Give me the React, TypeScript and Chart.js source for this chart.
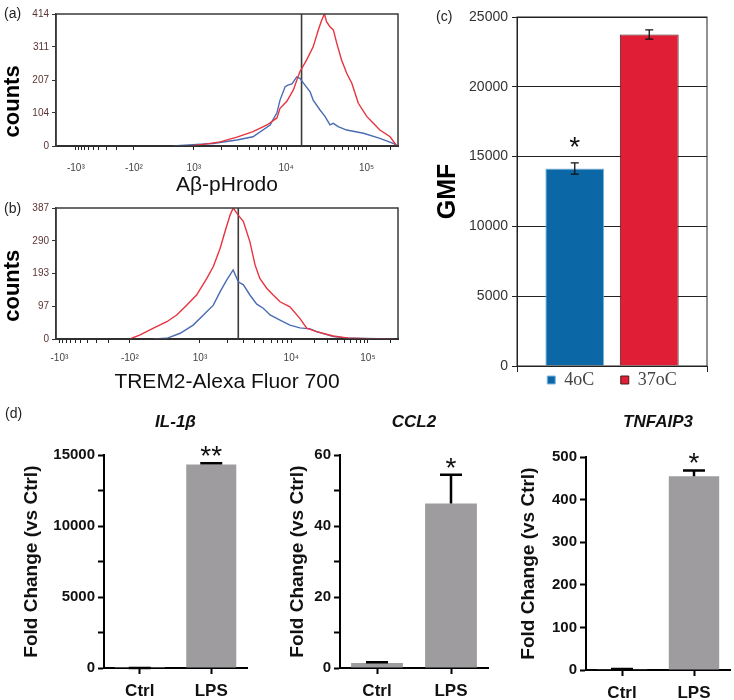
import React, { useEffect, useRef } from 'react';
import { Chart, registerables } from 'chart.js';

Chart.register(...registerables);

const SANS = "'Liberation Sans', Arial, Helvetica, sans-serif";
const SERIF = "'Liberation Serif', 'Times New Roman', serif";

// ---------- Panel (a): Aβ-pHrodo histogram (x = display channel 0–1000) ----------
const A_RED_X = [392, 430, 480, 529, 576, 617, 646, 655, 675, 694, 713, 733, 752, 767, 777, 785, 791, 801, 811, 821, 835, 850, 865, 884, 909, 928, 947, 977, 991, 996];
const A_RED_Y = [0, 5, 13, 28, 45, 66, 88, 118, 140, 176, 233, 270, 311, 364, 395, 414, 390, 374, 364, 322, 270, 228, 197, 134, 92, 71, 50, 29, 8, 0];
const A_BLUE_X = [342, 400, 459, 529, 576, 626, 646, 655, 670, 678, 690, 704, 713, 728, 743, 752, 772, 787, 801, 811, 825, 850, 899, 947, 986, 1000];
const A_BLUE_Y = [0, 4, 8, 19, 29, 66, 104, 144, 186, 191, 195, 217, 212, 191, 170, 144, 113, 92, 66, 71, 61, 50, 40, 24, 8, 0];
const A_GATE = 718;
const A_Y_MAX = 414;
const A_Y_TICKS = [0, 104, 207, 311, 414];
const A_X_TICK_POS = [58, 228, 403, 673, 908];
const A_X_TICK_LABELS = ['-10³', '-10²', '10³', '10⁴', '10⁵'];

// ---------- Panel (b): TREM2-Alexa Fluor 700 histogram ----------
const B_RED_X = [216, 246, 285, 324, 353, 382, 411, 441, 460, 480, 494, 509, 518, 533, 548, 567, 582, 596, 616, 635, 655, 684, 713, 733, 762, 811, 860, 909, 986];
const B_RED_Y = [0, 12, 32, 51, 71, 100, 130, 179, 214, 268, 317, 366, 387, 366, 347, 287, 219, 179, 150, 130, 110, 95, 61, 32, 22, 9, 2, 1, 0];
const B_BLUE_X = [285, 324, 363, 401, 431, 460, 480, 499, 518, 533, 548, 567, 587, 606, 626, 655, 684, 713, 743, 762, 811, 860, 986];
const B_BLUE_Y = [0, 2, 17, 41, 71, 100, 140, 174, 204, 169, 160, 130, 103, 91, 71, 56, 41, 33, 30, 22, 7, 2, 0];
const B_GATE = 533;
const B_Y_MAX = 387;
const B_Y_TICKS = [0, 97, 193, 290, 387];
const B_X_TICK_POS = [10, 216, 421, 688, 912];
const B_X_TICK_LABELS = ['-10³', '-10²', '10³', '10⁴', '10⁵'];

// ---------- Panel (c): GMF ----------
const C_LABELS = ['4oC', '37oC'];
const C_VALUES = [14150, 23750];
const C_ERRORS = [400, 330];
const C_STARS = ['*', ''];
const C_COLORS = ['#0b67a5', '#e01e35'];
const C_BORDERS = ['#7db8e0', '#4a1a1a'];
const C_Y_MAX = 25000;

// ---------- Panel (d): qPCR fold change ----------
const D_CATEGORIES = ['Ctrl', 'LPS'];
const IL1B_VALUES = [1, 14350];
const IL1B_ERRORS = [0, 80];
const IL1B_STARS = ['', '**'];
const IL1B_Y_TICKS = [0, 2500, 5000, 7500, 10000, 12500, 15000];
const IL1B_Y_LABELS = [0, 5000, 10000, 15000];

const CCL2_VALUES = [1.4, 46.4];
const CCL2_ERRORS = [0.2, 8.1];
const CCL2_STARS = ['', '*'];
const CCL2_Y_TICKS = [0, 10, 20, 30, 40, 50, 60];
const CCL2_Y_LABELS = [0, 20, 40, 60];

const TNF_VALUES = [2, 455];
const TNF_ERRORS = [0.5, 14];
const TNF_STARS = ['', '*'];
const TNF_Y_TICKS = [0, 100, 200, 300, 400, 500];
const TNF_Y_LABELS = [0, 100, 200, 300, 400, 500];

const HIST_RED = '#e8333f';
const HIST_BLUE = '#4a6cb3';

// ---------- plugins ----------
const framePlugin = {
  id: 'frame',
  afterDatasetsDraw(chart: any, _a: any, opts: any) {
    if (!opts || !opts.color) return;
    const { ctx } = chart;
    const { left, top, right, bottom } = chart.chartArea;
    ctx.save();
    ctx.strokeStyle = opts.color;
    ctx.lineWidth = opts.width || 1;
    ctx.strokeRect(left, top, right - left, bottom - top);
    ctx.restore();
  },
};

const errorBarsPlugin = {
  id: 'errorBars',
  afterDatasetsDraw(chart: any, _a: any, opts: any) {
    if (!opts || !opts.errors) return;
    const { ctx } = chart;
    const y = chart.scales.y;
    ctx.save();
    ctx.strokeStyle = opts.color || '#000';
    ctx.lineWidth = opts.lineWidth || 1;
    chart.data.datasets.forEach((ds: any, di: number) => {
      chart.getDatasetMeta(di).data.forEach((bar: any, i: number) => {
        const e = opts.errors[di] ? opts.errors[di][i] : null;
        if (e == null) return;
        const v = ds.data[i];
        const yt = y.getPixelForValue(v + e);
        const yb = y.getPixelForValue(opts.both ? v - e : v);
        const h = opts.capWidth / 2;
        ctx.beginPath();
        ctx.moveTo(bar.x, yt);
        ctx.lineTo(bar.x, yb);
        ctx.moveTo(bar.x - h, yt);
        ctx.lineTo(bar.x + h, yt);
        if (opts.both) {
          ctx.moveTo(bar.x - h, yb);
          ctx.lineTo(bar.x + h, yb);
        }
        ctx.stroke();
      });
    });
    ctx.restore();
  },
};

const starsPlugin = {
  id: 'stars',
  afterDatasetsDraw(chart: any, _a: any, opts: any) {
    if (!opts || !opts.marks) return;
    const { ctx } = chart;
    const y = chart.scales.y;
    ctx.save();
    ctx.fillStyle = opts.color || '#000';
    ctx.font = `${opts.weight || 'normal'} ${opts.size}px ${SANS}`;
    ctx.textAlign = 'center';
    ctx.textBaseline = 'alphabetic';
    chart.data.datasets.forEach((ds: any, di: number) => {
      chart.getDatasetMeta(di).data.forEach((bar: any, i: number) => {
        const s = opts.marks[di] ? opts.marks[di][i] : '';
        if (!s) return;
        const e = opts.errors && opts.errors[di] ? opts.errors[di][i] || 0 : 0;
        const cy = y.getPixelForValue(ds.data[i] + e) - opts.offset;
        ctx.fillText(s, bar.x, cy + 0.575 * opts.size);
      });
    });
    ctx.restore();
  },
};

// ---------- helpers ----------
const LOG_K = [2, 3, 4, 5, 6, 7, 8, 9];
function minorTicks(majors: number[]) {
  const [n3, n2, p3, p4, p5] = majors;
  const out: number[] = [];
  LOG_K.forEach((k) => {
    const l = Math.log10(k);
    out.push(n2 - l * (n2 - n3));
    out.push(p3 + l * (p4 - p3));
    out.push(p4 + l * (p5 - p4));
    const beyond = p5 + l * (p5 - p4);
    if (beyond < 1000) out.push(beyond);
  });
  return out;
}

function histConfig(p: any) {
  const minors = minorTicks(p.xTickPos);
  const allTicks = [...p.xTickPos, ...minors].sort((a, b) => a - b);
  return {
    type: 'line',
    data: {
      datasets: [
        { data: p.redX.map((x: number, i: number) => ({ x, y: p.redY[i] })), borderColor: HIST_RED, borderWidth: 1.4, pointRadius: 0, tension: 0, fill: false },
        { data: p.blueX.map((x: number, i: number) => ({ x, y: p.blueY[i] })), borderColor: HIST_BLUE, borderWidth: 1.4, pointRadius: 0, tension: 0, fill: false },
        { data: [{ x: p.gate, y: 0 }, { x: p.gate, y: p.yMax }], borderColor: '#3a3a3a', borderWidth: 1.6, pointRadius: 0, fill: false },
      ],
    },
    options: {
      animation: false,
      responsive: false,
      layout: { padding: { top: p.padTop, right: 22, left: 0, bottom: 0 } },
      plugins: {
        legend: { display: false },
        tooltip: { enabled: false },
        frame: { color: '#3a3a3a', width: 1.5 },
      },
      scales: {
        x: {
          type: 'linear',
          min: 0,
          max: 1000,
          afterBuildTicks: (s: any) => { s.ticks = allTicks.map((v) => ({ value: v })); },
          afterFit: (s: any) => { s.height = p.xHeight; },
          ticks: {
            autoSkip: false,
            maxRotation: 0,
            padding: p.xTickPad,
            font: { family: SANS, size: 10 },
            color: '#444',
            callback: (v: number) => {
              const i = p.xTickPos.indexOf(v);
              return i >= 0 ? p.xTickLabels[i] : '';
            },
          },
          grid: { drawOnChartArea: false, tickLength: 4, color: '#222', tickWidth: 1 },
          border: { color: '#111', width: 2 },
          title: { display: true, text: p.xTitle, font: { family: SANS, size: 21, lineHeight: 1.2 }, color: '#111', padding: { top: 0, bottom: p.xTitlePad } },
        },
        y: {
          min: 0,
          max: p.yMax,
          afterBuildTicks: (s: any) => { s.ticks = p.yTicks.map((v: number) => ({ value: v })); },
          afterFit: (s: any) => { s.width = 56; },
          ticks: { autoSkip: false, padding: 3, font: { family: SANS, size: 10 }, color: '#5c3333' },
          grid: { drawOnChartArea: false, tickLength: 4, color: '#333' },
          border: { color: '#333', width: 1.5 },
          title: { display: true, text: p.yTitle, font: { family: SANS, size: 22, weight: 'bold', lineHeight: 1 }, color: '#000', padding: { top: 2, bottom: 0 } },
        },
      },
    },
    plugins: [framePlugin],
  };
}

function gmfConfig() {
  return {
    type: 'bar',
    data: {
      labels: [''],
      datasets: C_LABELS.map((l, i) => ({
        label: l,
        data: [C_VALUES[i]],
        backgroundColor: C_COLORS[i],
        borderColor: C_BORDERS[i],
        borderWidth: 1,
        barPercentage: 0.79,
        categoryPercentage: 0.784,
      })),
    },
    options: {
      animation: false,
      responsive: false,
      layout: { padding: { top: 17, right: 27, left: 0, bottom: 0 } },
      plugins: {
        legend: {
          display: true,
          position: 'bottom',
          fullSize: false,
          labels: {
            boxWidth: 8,
            boxHeight: 8,
            padding: 4,
            font: { family: SERIF, size: 18 },
            color: '#444',
            generateLabels: (chart: any) => {
              const items = Chart.defaults.plugins.legend.labels.generateLabels(chart);
              if (items.length) items[0].text = items[0].text + '     ';
              return items;
            },
          },
        },
        tooltip: { enabled: false },
        frame: { color: '#222', width: 1 },
        errorBars: { errors: C_ERRORS.map((e) => [e]), both: true, capWidth: 8, lineWidth: 1.3, color: '#111' },
        stars: { marks: C_STARS.map((s) => [s]), errors: C_ERRORS.map((e) => [e]), size: 28, offset: 23, color: '#111' },
      },
      scales: {
        x: {
          grid: { drawOnChartArea: false, tickLength: 6, color: '#222' },
          ticks: { display: false },
          border: { color: '#222', width: 1 },
          afterFit: (s: any) => { s.height = 1; },
        },
        y: {
          min: 0,
          max: C_Y_MAX,
          ticks: { stepSize: 5000, padding: 4, font: { family: SANS, size: 14 }, color: '#333', callback: (v: number) => String(v) },
          grid: { color: '#222', lineWidth: 1, tickLength: 5 },
          border: { color: '#222', width: 1 },
          afterFit: (s: any) => { s.width = 97; },
          title: { display: true, text: 'GMF', font: { family: SANS, size: 25, weight: 'bold', lineHeight: 1 }, color: '#000', padding: { top: 15.5, bottom: 0 } },
        },
      },
    },
    plugins: [framePlugin, errorBarsPlugin, starsPlugin],
  };
}

function foldConfig(p: any) {
  return {
    type: 'bar',
    data: {
      labels: D_CATEGORIES,
      datasets: [{ data: p.values, backgroundColor: '#9e9c9f', borderWidth: 0, barPercentage: 0.7, categoryPercentage: 1 }],
    },
    options: {
      animation: false,
      responsive: false,
      layout: { padding: { top: 0, right: p.padRight, left: 0, bottom: 0 } },
      plugins: {
        legend: { display: false },
        tooltip: { enabled: false },
        title: {
          display: true,
          text: p.title,
          fullSize: false,
          font: { family: SANS, size: 17, weight: 'bold', style: 'italic', lineHeight: 1.2 },
          color: '#111',
          padding: { top: 16.8, bottom: p.titlePadBottom },
        },
        errorBars: { errors: [p.errors], both: false, capWidth: 22, lineWidth: 2.5, color: '#000' },
        stars: { marks: [p.stars], errors: [p.errors], size: 28, offset: 14, color: '#111' },
      },
      scales: {
        x: {
          grid: { drawOnChartArea: false, offset: false, tickLength: 6, tickWidth: 2, color: '#000' },
          border: { color: '#000', width: 2 },
          ticks: { padding: 7, font: { family: SANS, size: 17, weight: 'bold' }, color: '#111' },
          afterFit: (s: any) => { s.height = p.xHeight; },
        },
        y: {
          min: 0,
          max: p.yMax,
          afterBuildTicks: (s: any) => { s.ticks = p.yTicks.map((v: number) => ({ value: v })); },
          afterFit: (s: any) => { s.width = p.yWidth; },
          ticks: {
            autoSkip: false,
            padding: 3,
            font: { family: SANS, size: 15, weight: 'bold' },
            color: '#111',
            callback: (v: number) => (p.yLabels.includes(v) ? String(v) : ''),
          },
          grid: { drawOnChartArea: false, tickLength: 6, tickWidth: 2, color: '#000' },
          border: { color: '#000', width: 2 },
          title: {
            display: true,
            text: 'Fold Change (vs Ctrl)',
            font: { family: SANS, size: 19, weight: 'bold', lineHeight: 1.2 },
            color: '#111',
            padding: { top: p.yTitlePad, bottom: 0 },
          },
        },
      },
    },
    plugins: [errorBarsPlugin, starsPlugin],
  };
}

function ChartCanvas({ left, top, width, height, makeConfig }: any) {
  const ref = useRef<HTMLCanvasElement | null>(null);
  useEffect(() => {
    if (!ref.current) return;
    const chart = new Chart(ref.current, makeConfig());
    return () => chart.destroy();
  }, []);
  return (
    <canvas
      ref={ref}
      width={width}
      height={height}
      style={{ position: 'absolute', left, top, width, height }}
    />
  );
}

const labelStyle = (left: number, top: number): React.CSSProperties => ({
  position: 'absolute',
  left,
  top,
  fontSize: 14,
  lineHeight: '16px',
  color: '#222',
  fontFamily: SANS,
});

export default function App() {
  return (
    <div style={{ position: 'absolute', left: 0, top: 0, width: 734, height: 700, background: '#fff', overflow: 'hidden' }}>
      <ChartCanvas
        left={0}
        top={0}
        width={420}
        height={200}
        makeConfig={() =>
          histConfig({
            redX: A_RED_X, redY: A_RED_Y, blueX: A_BLUE_X, blueY: A_BLUE_Y,
            gate: A_GATE, yMax: A_Y_MAX, yTicks: A_Y_TICKS,
            xTickPos: A_X_TICK_POS, xTickLabels: A_X_TICK_LABELS,
            xTitle: 'Aβ-pHrodo', yTitle: 'counts       ',
            padTop: 14, xHeight: 54, xTickPad: 12, xTitlePad: 2,
          })
        }
      />
      <ChartCanvas
        left={0}
        top={195}
        width={420}
        height={200}
        makeConfig={() =>
          histConfig({
            redX: B_RED_X, redY: B_RED_Y, blueX: B_BLUE_X, blueY: B_BLUE_Y,
            gate: B_GATE, yMax: B_Y_MAX, yTicks: B_Y_TICKS,
            xTickPos: B_X_TICK_POS, xTickLabels: B_X_TICK_LABELS,
            xTitle: 'TREM2-Alexa Fluor 700', yTitle: 'counts    ',
            padTop: 13, xHeight: 56, xTickPad: 9, xTitlePad: 0,
          })
        }
      />
      <ChartCanvas left={420} top={0} width={314} height={399} makeConfig={gmfConfig} />
      <ChartCanvas
        left={0}
        top={395}
        width={250}
        height={305}
        makeConfig={() =>
          foldConfig({
            title: 'IL-1β', values: IL1B_VALUES, errors: IL1B_ERRORS, stars: IL1B_STARS,
            yMax: 15000, yTicks: IL1B_Y_TICKS, yLabels: IL1B_Y_LABELS,
            yWidth: 104, padRight: 3, xHeight: 32, titlePadBottom: 23, yTitlePad: 20.6,
          })
        }
      />
      <ChartCanvas
        left={250}
        top={395}
        width={240}
        height={305}
        makeConfig={() =>
          foldConfig({
            title: 'CCL2', values: CCL2_VALUES, errors: CCL2_ERRORS, stars: CCL2_STARS,
            yMax: 60, yTicks: CCL2_Y_TICKS, yLabels: CCL2_Y_LABELS,
            yWidth: 90, padRight: 2, xHeight: 32, titlePadBottom: 23, yTitlePad: 36.6,
          })
        }
      />
      <ChartCanvas
        left={490}
        top={395}
        width={244}
        height={305}
        makeConfig={() =>
          foldConfig({
            title: 'TNFAIP3', values: TNF_VALUES, errors: TNF_ERRORS, stars: TNF_STARS,
            yMax: 500, yTicks: TNF_Y_TICKS, yLabels: TNF_Y_LABELS,
            yWidth: 96, padRight: 4, xHeight: 30, titlePadBottom: 25, yTitlePad: 27.6,
          })
        }
      />
      <span style={labelStyle(4, 5)}>(a)</span>
      <span style={labelStyle(4, 200)}>(b)</span>
      <span style={labelStyle(436, 8)}>(c)</span>
      <span style={labelStyle(5, 405)}>(d)</span>
    </div>
  );
}
